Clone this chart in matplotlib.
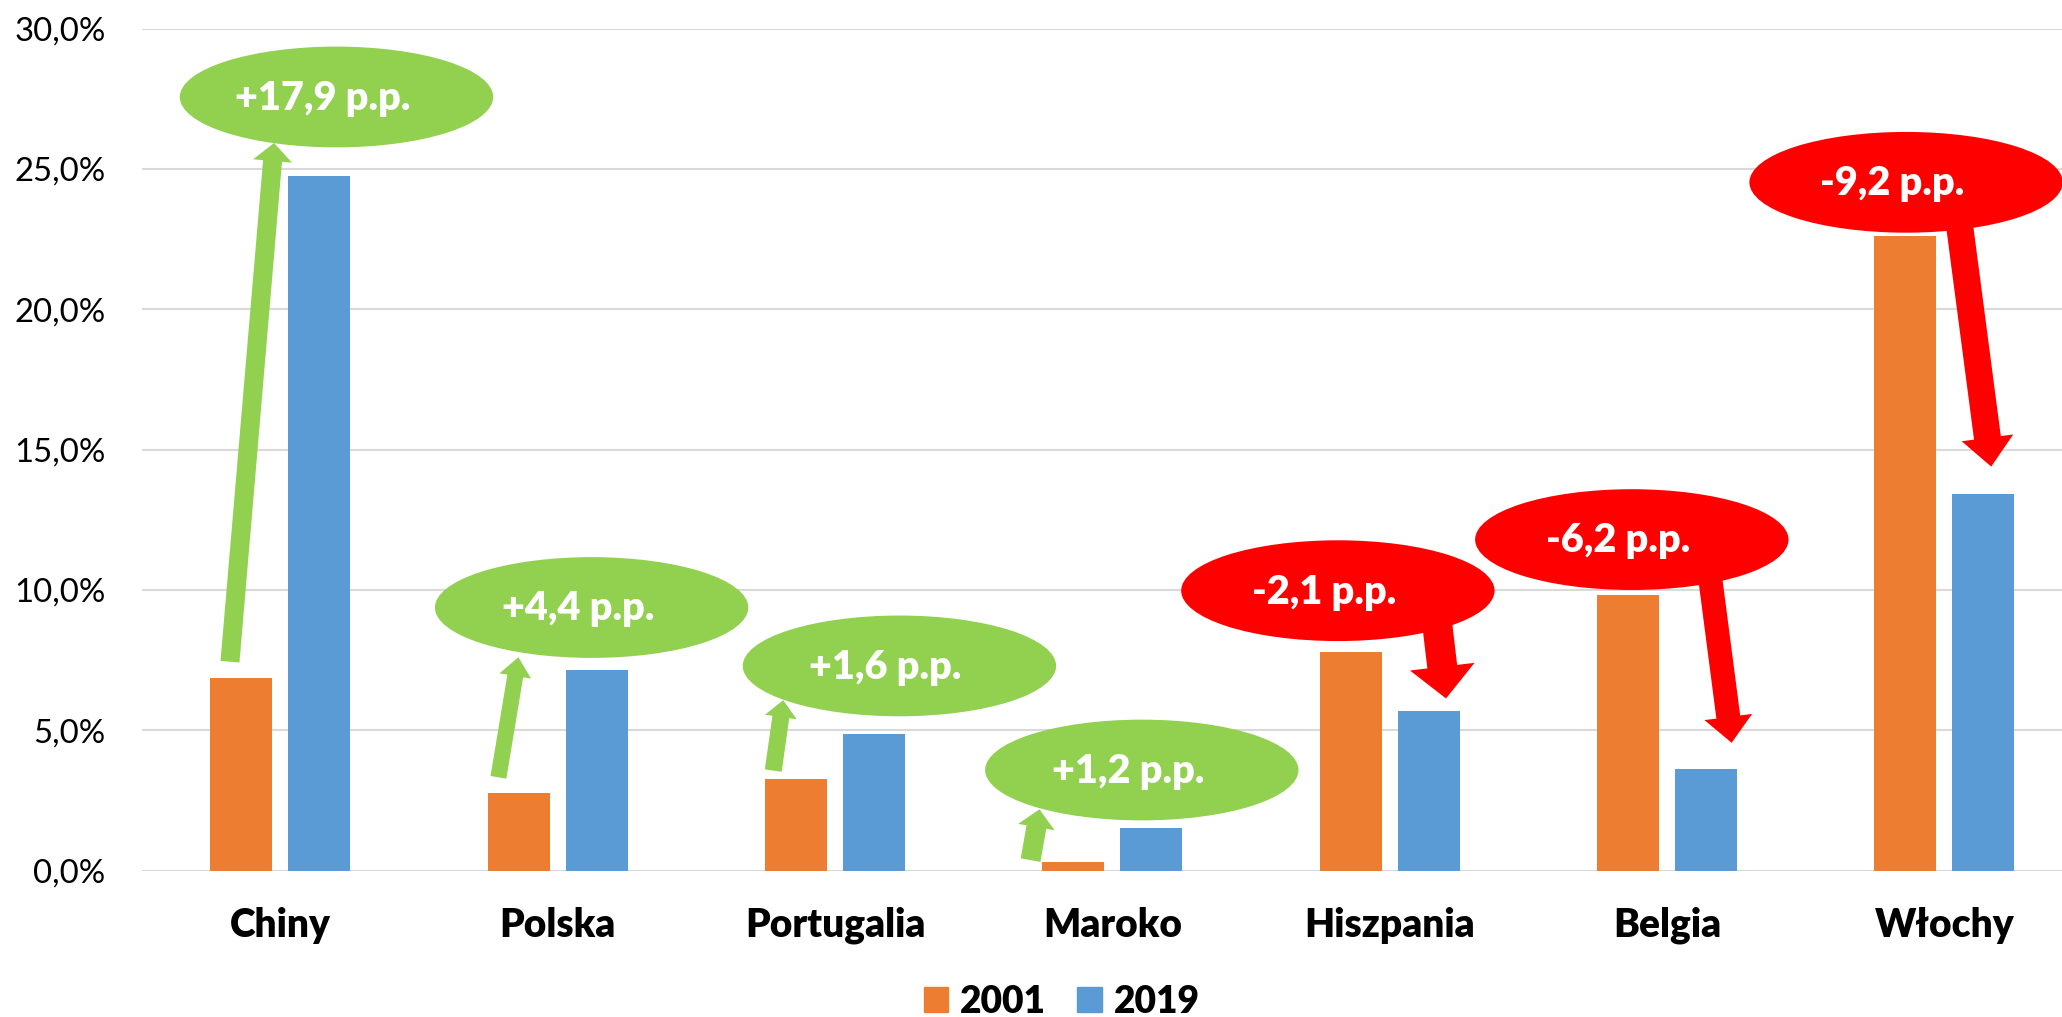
import numpy as np
import matplotlib
matplotlib.use("Agg")
import matplotlib.pyplot as plt
from matplotlib.patches import Ellipse, FancyArrowPatch, Patch
from matplotlib.ticker import FuncFormatter, MultipleLocator

plt.rcParams['font.family'] = ['Lato', 'DejaVu Sans']

# share of imports (%) by country
countries = ['Chiny', 'Polska', 'Portugalia', 'Maroko', 'Hiszpania', 'Belgia', 'Włochy']
share_2001 = [6.85, 2.75, 3.25, 0.3, 7.8, 9.8, 22.6]
share_2019 = [24.75, 7.15, 4.85, 1.5, 5.7, 3.6, 13.4]
years = ['2001', '2019']

ORANGE = '#ED7D31'
BLUE = '#5B9BD5'
GREEN = '#92D050'
RED = '#FF0000'

# callout bubbles: centre (x, y) in data units
bubble_xy = [(0.202, 27.56), (1.122, 9.37), (2.232, 7.29), (3.106, 3.58),
             (3.813, 9.97), (4.873, 11.79), (5.862, 24.52)]
bubble_w, bubble_h = 1.13, 3.59
# arrows: (x0, y0, x1, y1) and (tail, head width, head length) in pixels
arrow_xy = [(-0.182, 7.44, -0.023, 25.92), (0.786, 3.32, 0.858, 7.6),
            (1.777, 3.56, 1.813, 6.07), (2.705, 0.37, 2.737, 2.18),
            (4.165, 9.3, 4.203, 6.13), (5.148, 11.0, 5.233, 4.55),
            (6.044, 23.8, 6.169, 14.39)]
arrow_px = [(19, 39, 18), (16, 32, 19), (17, 32, 17), (20, 37, 18),
            (30, 65, 32), (24, 48, 26), (27, 52, 29)]

W, H = 2062, 1017
fig = plt.figure(figsize=(W / 100, H / 100), dpi=100)
ax = fig.add_axes([141.8 / W, 1 - 870.5 / H, 1941.2 / W, 842 / H])

x = np.arange(len(countries))
bw = 0.2236
off = 0.1407
ax.bar(x - off, share_2001, bw, color=ORANGE, zorder=2)
ax.bar(x + off, share_2019, bw, color=BLUE, zorder=2)

ax.set_xlim(-0.5, len(countries) - 0.5)
ax.set_ylim(0, 30)
ax.yaxis.set_major_locator(MultipleLocator(5))
ax.yaxis.set_major_formatter(FuncFormatter(lambda v, p: f'{v:.1f}%'.replace('.', ',')))
ax.grid(axis='y', color='#D9D9D9', linewidth=1.5, zorder=0)
ax.set_axisbelow(True)
for s in ax.spines.values():
    s.set_visible(False)
ax.set_xticks(x)
ax.set_xticklabels(countries, fontsize=28, fontweight='heavy')
ax.tick_params(axis='x', length=0, pad=26)
ax.tick_params(axis='y', length=0, pad=26, labelsize=23.7)

pt = 0.72  # pixels -> points at 100 dpi
for i in range(len(countries)):
    diff = share_2019[i] - share_2001[i]
    col = GREEN if diff > 0 else RED
    x0, y0, x1, y1 = arrow_xy[i]
    tw, hw, hl = arrow_px[i]
    arr = FancyArrowPatch((x0, y0), (x1, y1),
                          arrowstyle=f'simple,head_length={hl * pt},head_width={hw * pt},tail_width={tw * pt}',
                          mutation_scale=1, shrinkA=0, shrinkB=0,
                          color=col, lw=0, zorder=3)
    ax.add_patch(arr)
    cx, cy = bubble_xy[i]
    ax.add_patch(Ellipse((cx, cy), bubble_w, bubble_h, color=col, lw=0, zorder=4))
    label = f'{diff:+.1f} p.p.'.replace('.', ',', 1)
    ax.text(cx - 0.05, cy - 0.05, label, color='white', fontsize=28.5,
            fontweight='heavy', ha='center', va='center', zorder=5)

handles = [Patch(color=ORANGE), Patch(color=BLUE)]
fig.legend(handles, years, loc='center', bbox_to_anchor=(1061.5 / W, 1 - 1001.7 / H),
           ncol=2, frameon=False, handlelength=0.65, handleheight=0.65,
           handletextpad=0.32, columnspacing=0.86,
           prop={'size': 26.7, 'weight': 'heavy'})

fig.savefig('out.png', dpi=100)
